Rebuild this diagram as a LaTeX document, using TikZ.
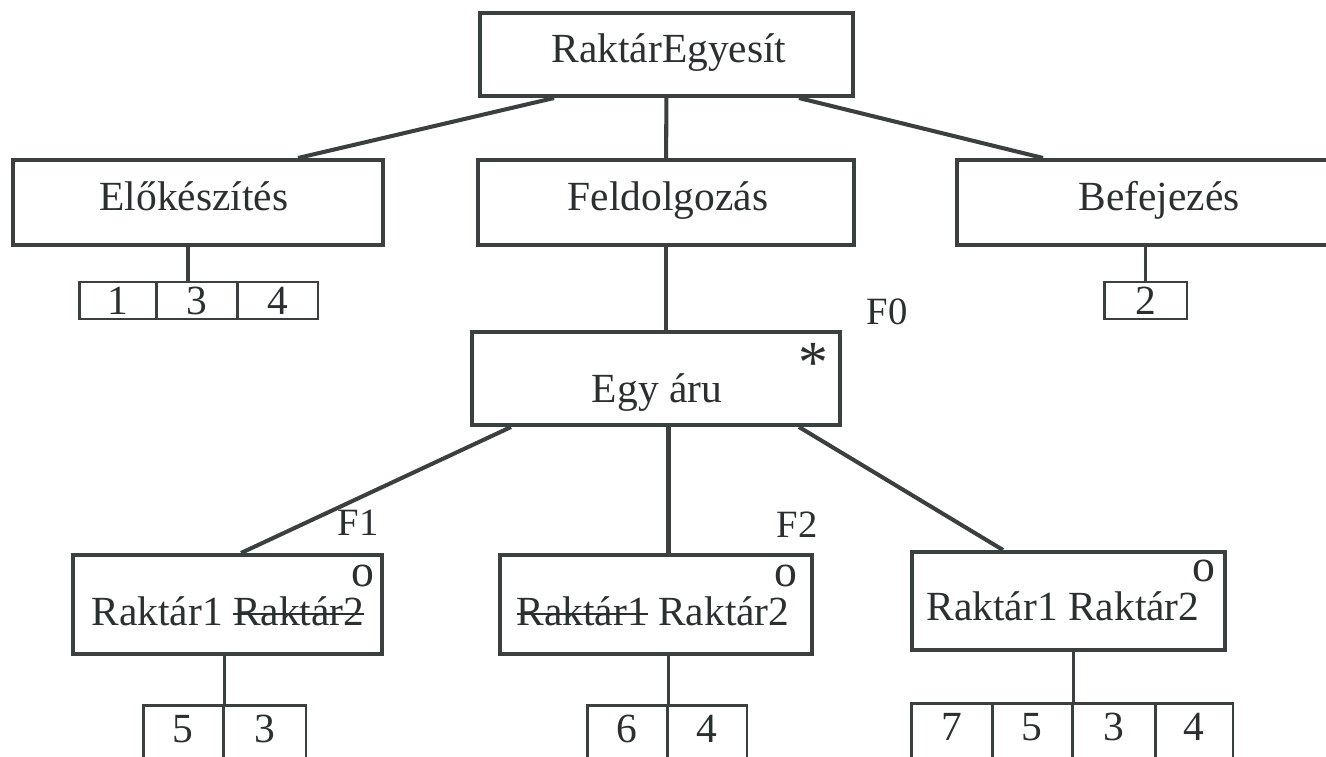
\documentclass[tikz,border=0pt]{standalone}
\usepackage{fontspec}
\setmainfont{Liberation Serif}
\usetikzlibrary{calc}
\definecolor{ink}{HTML}{3A3F3F}
\definecolor{txt}{HTML}{2A2F2F}
% struck-through word
\newcommand{\strk}[1]{\setbox0\hbox{#1}\rlap{\rule[0.24em]{\wd0}{0.055em}}\box0\relax}
\begin{document}
\begin{tikzpicture}[x=0.02cm,y=-0.02cm,
  box/.style={draw=ink,line width=2.3pt,inner sep=0pt,rectangle},
  cell/.style={draw=ink,line width=1.7pt,inner sep=0pt,rectangle},
  conn/.style={draw=ink,line width=2.3pt},
  thinconn/.style={draw=ink,line width=1.8pt},
  word/.style={text=txt,inner sep=0pt,anchor=base,font=\fontsize{23.6}{28}\selectfont},
  dig/.style={text=txt,inner sep=0pt,font=\fontsize{23.6}{28}\selectfont},
  tag/.style={text=txt,inner sep=0pt,font=\fontsize{22}{26}\selectfont},
  ring/.style={text=txt,inner sep=0pt,font=\fontsize{26}{28}\selectfont},
  starmark/.style={text=txt,inner sep=0pt,font=\fontsize{34}{36}\selectfont}]
\useasboundingbox (0,0) rectangle (1326,757);
\clip (0,0) rectangle (1326,757);

% tree boxes
\node[box,minimum width=7.46cm,minimum height=1.66cm] (top)  at (666.5,54.5) {};
\node[box,minimum width=7.40cm,minimum height=1.70cm] (elo)  at (198,202.5) {};
\node[box,minimum width=7.52cm,minimum height=1.70cm] (feld) at (666,202.5) {};
\node[box,minimum width=8.08cm,minimum height=1.70cm] (bef)  at (1159,202.5) {};
\node[box,minimum width=7.36cm,minimum height=1.86cm] (egy)  at (656,378.5) {};
\node[box,minimum width=6.18cm,minimum height=1.98cm] (r1)   at (227.5,604.5) {};
\node[box,minimum width=6.24cm,minimum height=1.98cm] (r2)   at (656,604.5) {};
\node[box,minimum width=6.26cm,minimum height=1.96cm] (r3)   at (1068.5,601) {};

% box texts
\node[word] (topt)  at (669,63)   {RaktárEgyesít};
\node[word] (elot)  at (194,211)  {Előkészítés};
\node[word] (feldt) at (668,211)  {Feldolgozás};
\node[word] (beft)  at (1159,211) {Befejezés};
\node[word] (egyt)  at (657,402)  {Egy áru};
\node[word] (r1t)   at (228,625)  {Raktár1 \strk{Raktár2}};
\node[word] (r2t)   at (653,625)  {\strk{Raktár1} Raktár2};
\node[word] (r3t)   at (1063,620) {Raktár1 Raktár2};

% marks and labels
\node[starmark] (star) at (813,363) {*};
\node[ring] (o1)   at (363,576) {o};
\node[ring] (o2)   at (786,576) {o};
\node[ring] (o3)   at (1204,571) {o};
\node[tag]  (f0)   at (887,312) {F0};
\node[tag]  (f1)   at (358,523) {F1};
\node[tag]  (f2)   at (797,525) {F2};

% operation cells, upper level
\node[cell,minimum width=1.54cm,minimum height=0.74cm] (e1) at (117.5,300.5) {};
\node[cell,minimum width=1.62cm,minimum height=0.74cm] (e3) at (196.5,300.5) {};
\node[cell,minimum width=1.62cm,minimum height=0.74cm] (e4) at (277.5,300.5) {};
\node[cell,minimum width=1.66cm,minimum height=0.74cm] (b2) at (1145.5,300.5) {};
\node[dig] (e1t) at (117.5,300.5) {1};
\node[dig] (e3t) at (196.5,300.5) {3};
\node[dig] (e4t) at (277.5,300.5) {4};
\node[dig] (b2t) at (1145.5,300.5) {2};

% operation cells, lower level
\node[cell,minimum width=1.60cm,minimum height=1.4cm] (s5) at (183,740) {};
\node[cell,minimum width=1.66cm,minimum height=1.4cm] (s3) at (264.5,740) {};
\node[cell,minimum width=1.60cm,minimum height=1.4cm] (t6) at (627,740) {};
\node[cell,minimum width=1.60cm,minimum height=1.4cm] (t4) at (707,740) {};
\node[cell,minimum width=1.62cm,minimum height=1.4cm] (u7) at (951.5,738) {};
\node[cell,minimum width=1.60cm,minimum height=1.4cm] (u5) at (1032,738) {};
\node[cell,minimum width=1.66cm,minimum height=1.4cm] (u3) at (1113.5,738) {};
\node[cell,minimum width=1.56cm,minimum height=1.4cm] (u4) at (1194,738) {};
\node[dig] (s5t) at (183,729) {5};
\node[dig] (s3t) at (264.5,729) {3};
\node[dig] (t6t) at (627,729) {6};
\node[dig] (t4t) at (707,729) {4};
\node[dig] (u7t) at (951.5,727) {7};
\node[dig] (u5t) at (1032,727) {5};
\node[dig] (u3t) at (1113.5,727) {3};
\node[dig] (u4t) at (1194,727) {4};

% tree connectors
\draw[conn] ($(top.south west)+(76,0)$) -- ($(elo.north west)+(287,0)$);
\draw[conn] (top) -- (feld);
\draw[conn] ($(top.south east)+(-56,0)$) -- ($(bef.north west)+(88,0)$);
\draw[conn] (feld.south) -- (feld.south |- egy.north);
\draw[conn] ($(egy.south west)+(41,0)$) -- ($(r1.north west)+(170,0)$);
\draw[conn] (t6.north east |- egy.south) -- (t6.north east |- r2.north);
\draw[conn] ($(egy.south east)+(-43,0)$) -- ($(r3.north west)+(93,0)$);

% links to the operation cells
\draw[thinconn] ($(elo.south)+(-10,0)$) -- ($(e3.north)+(-8.5,0)$);
\draw[thinconn] (b2.north |- bef.south) -- (b2.north);
\draw[thinconn] (s5.north east |- r1.south) -- (s5.north east);
\draw[thinconn] (t6.north east |- r2.south) -- (t6.north east);
\draw[thinconn] (u5.north east |- r3.south) -- (u5.north east);
\end{tikzpicture}
\end{document}
